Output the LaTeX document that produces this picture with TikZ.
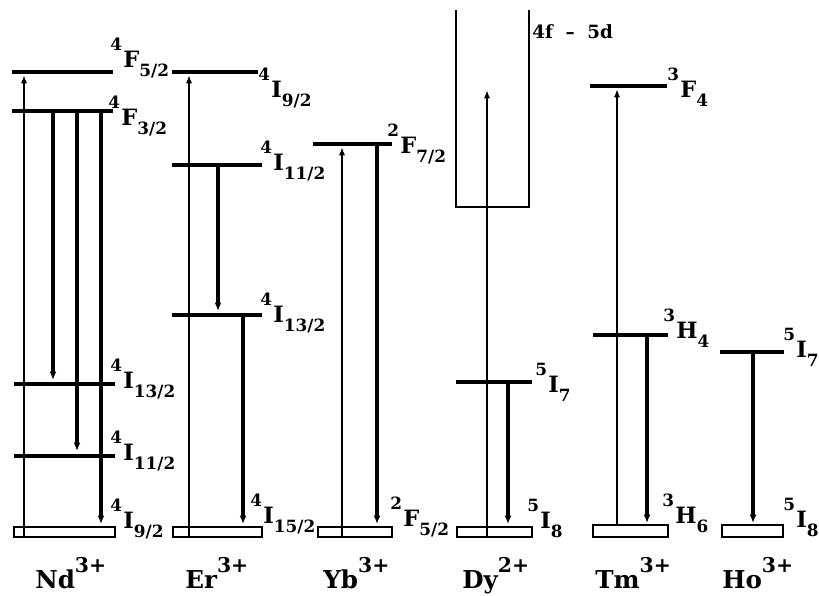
\documentclass[tikz,border=0pt]{standalone}
\usepackage{amsmath}
\usepackage{fontspec}
\setmainfont{DejaVu Serif}
\usetikzlibrary{arrows.meta}

\newcommand{\trm}[3]{\raisebox{11.5pt}{\fontsize{12}{14}\selectfont #1}\kern1pt{\fontsize{16}{18}\selectfont #2}\raisebox{-7pt}{\fontsize{12}{14}\selectfont #3}}
\newcommand{\ionname}[2]{{\fontsize{17.5}{21}\selectfont #1}\raisebox{11pt}{\fontsize{14.5}{18}\selectfont #2}}

\begin{document}
\begin{tikzpicture}[x=0.025cm,y=-0.025cm,
    level/.style={line width=2.5pt},
    gnd/.style={draw,line width=1.5pt},
    up/.style={-{Latex[length=6pt,width=4.5pt]},line width=1.6pt},
    down/.style={-{Latex[length=6pt,width=5pt]},line width=2.3pt},
    term/.style={anchor=base west,inner sep=0pt,font=\bfseries},
    ion/.style={anchor=base west,inner sep=0pt,font=\bfseries}]

  \useasboundingbox (0,0) rectangle (819,595);

  % Nd3+
  \draw[level] (12,72) -- (113,72);
  \draw[level] (12,111) -- (113,111);
  \draw[level] (14,384) -- (115,384);
  \draw[level] (14,456) -- (115,456);
  \draw[gnd] (14,527) rectangle (115,537);
  \coordinate (nd0) at (24,537);
  \coordinate (nd5) at (24,75);
  \coordinate (nd3a) at (53,111);
  \coordinate (nd13) at (53,380);
  \coordinate (nd3b) at (77,111);
  \coordinate (nd11) at (77,451);
  \coordinate (nd3c) at (101,111);
  \coordinate (nd9) at (101,524);
  \draw[up] (nd0) -- (nd5);
  \draw[down] (nd3a) -- (nd13);
  \draw[down] (nd3b) -- (nd11);
  \draw[down] (nd3c) -- (nd9);
  \node[term] (ndF52) at (110,67) {\trm{4}{F}{5/2}};
  \node[term] (ndF32) at (108,125) {\trm{4}{F}{3/2}};
  \node[term] (ndI132) at (110,388) {\trm{4}{I}{13/2}};
  \node[term] (ndI112) at (110,460) {\trm{4}{I}{11/2}};
  \node[term] (ndI92) at (110,528) {\trm{4}{I}{9/2}};
  \node[ion] (nd) at (35,588) {\ionname{Nd}{3+}};

  % Er3+
  \draw[level] (172,72) -- (258,72);
  \draw[level] (172,165) -- (262,165);
  \draw[level] (172,315) -- (262,315);
  \draw[gnd] (173,527) rectangle (262,537);
  \coordinate (er0) at (189,537);
  \coordinate (er9) at (189,75);
  \coordinate (er11a) at (218,165);
  \coordinate (er13) at (218,311);
  \coordinate (er13a) at (243,315);
  \coordinate (er15) at (243,524);
  \draw[up] (er0) -- (er9);
  \draw[down] (er11a) -- (er13);
  \draw[down] (er13a) -- (er15);
  \node[term] (erI92) at (258,97) {\trm{4}{I}{9/2}};
  \node[term] (erI112) at (260,170) {\trm{4}{I}{11/2}};
  \node[term] (erI132) at (260,322) {\trm{4}{I}{13/2}};
  \node[term] (erI152) at (250,523) {\trm{4}{I}{15/2}};
  \node[ion] (er) at (185,588) {\ionname{Er}{3+}};

  % Yb3+
  \draw[level] (313,144) -- (392,144);
  \draw[gnd] (318,527) rectangle (392,537);
  \coordinate (yb0) at (342,537);
  \coordinate (yb7) at (342,147);
  \coordinate (yb7a) at (377,144);
  \coordinate (yb5) at (377,524);
  \draw[up] (yb0) -- (yb7);
  \draw[down] (yb7a) -- (yb5);
  \node[term] (ybF72) at (387,153) {\trm{2}{F}{7/2}};
  \node[term] (ybF52) at (390,526) {\trm{2}{F}{5/2}};
  \node[ion] (yb) at (323,588) {\ionname{Yb}{3+}};

  % Dy2+
  \draw[line width=1.7pt] (456,10) -- (456,207) -- (529,207) -- (529,10);
  \draw[level] (456,382) -- (532,382);
  \draw[gnd] (457,527) rectangle (532,537);
  \coordinate (dy0) at (487,537);
  \coordinate (dyfd) at (487,90);
  \coordinate (dy7) at (508,382);
  \coordinate (dy8) at (508,524);
  \draw[up] (dy0) -- (dyfd);
  \draw[down] (dy7) -- (dy8);
  \node[term] (dyband) at (532,38) {\fontsize{13}{15}\selectfont 4f\hspace{9pt}--\hspace{9pt}5d};
  \node[term] (dyI7) at (535,392) {\trm{5}{I}{7}};
  \node[term] (dyI8) at (527,528) {\trm{5}{I}{8}};
  \node[ion] (dy) at (462,588) {\ionname{Dy}{2+}};

  % Tm3+
  \draw[level] (590,86) -- (667,86);
  \draw[level] (593,335) -- (668,335);
  \draw[gnd] (593,525) rectangle (668,537);
  \coordinate (tm0) at (617,525);
  \coordinate (tmF4) at (617,89);
  \coordinate (tmH4) at (647,335);
  \coordinate (tmH6) at (647,523);
  \draw[up] (tm0) -- (tmF4);
  \draw[down] (tmH4) -- (tmH6);
  \node[term] (tmF) at (667,97) {\trm{3}{F}{4}};
  \node[term] (tmH) at (663,338) {\trm{3}{H}{4}};
  \node[term] (tmG) at (662,523) {\trm{3}{H}{6}};
  \node[ion] (tm) at (595,588) {\ionname{Tm}{3+}};

  % Ho3+
  \draw[level] (720,352) -- (784,352);
  \draw[gnd] (722,525) rectangle (783,537);
  \coordinate (ho7) at (753,352);
  \coordinate (ho8) at (753,523);
  \draw[down] (ho7) -- (ho8);
  \node[term] (hoI7) at (783,357) {\trm{5}{I}{7}};
  \node[term] (hoI8) at (783,527) {\trm{5}{I}{8}};
  \node[ion] (ho) at (722,588) {\ionname{Ho}{3+}};
\end{tikzpicture}
\end{document}
